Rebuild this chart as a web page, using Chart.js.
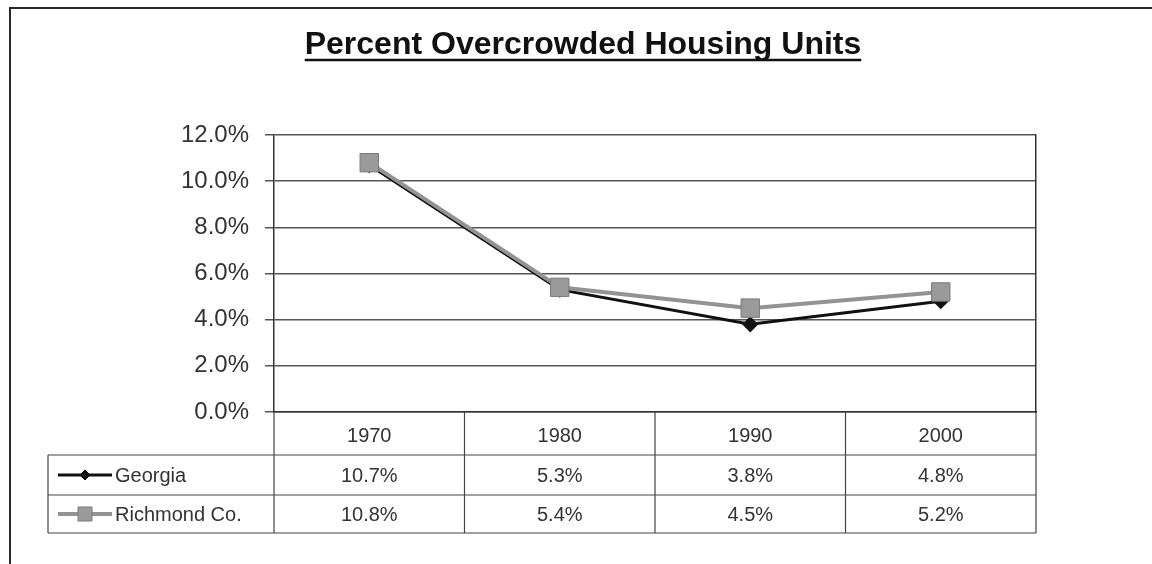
<!DOCTYPE html>
<html>
<head>
<meta charset="utf-8">
<script src="https://cdn.jsdelivr.net/npm/chart.js@4/dist/chart.umd.min.js"></script>
<style>
  html, body { margin: 0; padding: 0; background: #fff; }
  #wrap { width: 1152px; height: 564px; }
</style>
</head>
<body>
<div id="wrap"><canvas id="crowd-chart"></canvas></div>
<script>
var years = ['1970', '1980', '1990', '2000'];
var georgia = [10.7, 5.3, 3.8, 4.8];
var richmond = [10.8, 5.4, 4.5, 5.2];
var seriesNames = ['Georgia', 'Richmond Co.'];

var FONT = '"Liberation Sans", Arial, sans-serif';
var INK = '#333';

function pct(v) { return v.toFixed(1) + '%'; }

// page frame + table under the plot + underline for the title
var extras = {
  id: 'extras',
  beforeDraw: function (chart) {
    var c = chart.ctx;
    c.save();
    c.strokeStyle = '#2a2a2a';
    c.lineWidth = 2;
    c.beginPath();
    c.moveTo(10, 564);
    c.lineTo(10, 8);
    c.lineTo(1152, 8);
    c.stroke();
    c.restore();
  },
  afterDraw: function (chart) {
    var c = chart.ctx;
    var x = chart.scales.x;
    var area = chart.chartArea;
    var rowH = [43, 40, 38];
    var top = area.bottom;
    var r1 = top + rowH[0], r2 = r1 + rowH[1], r3 = r2 + rowH[2];
    var legLeft = 48;
    var n = years.length;
    var edges = [];
    for (var i = 0; i <= n; i++) {
      edges.push(x.left + i * (x.right - x.left) / n);
    }

    c.save();
    c.strokeStyle = '#444';
    c.lineWidth = 1.2;
    c.beginPath();
    // verticals
    edges.forEach(function (ex) { c.moveTo(ex, top); c.lineTo(ex, r3); });
    c.moveTo(legLeft, r1); c.lineTo(legLeft, r3);
    // horizontals
    [r1, r2, r3].forEach(function (ry) { c.moveTo(legLeft, ry); c.lineTo(x.right, ry); });
    c.stroke();

    // values
    var rows = [georgia, richmond];
    var rowMid = [(r1 + r2) / 2, (r2 + r3) / 2];
    c.fillStyle = INK;
    c.font = '20px ' + FONT;
    c.textAlign = 'center';
    c.textBaseline = 'middle';
    rows.forEach(function (vals, r) {
      vals.forEach(function (v, i) {
        c.fillText(pct(v), x.getPixelForValue(i), rowMid[r] + 1);
      });
    });

    // legend keys in the first column
    chart.data.datasets.forEach(function (ds, r) {
      var y = rowMid[r];
      c.strokeStyle = ds.borderColor;
      c.lineWidth = ds.borderWidth;
      c.beginPath();
      c.moveTo(58, y); c.lineTo(112, y);
      c.stroke();
      c.fillStyle = ds.pointBackgroundColor;
      c.strokeStyle = ds.pointBorderColor;
      c.lineWidth = 1;
      c.beginPath();
      if (ds.pointStyle === 'rect') {
        c.rect(85 - 7, y - 7, 14, 14);
      } else {
        c.moveTo(85, y - 5); c.lineTo(90, y); c.lineTo(85, y + 5); c.lineTo(80, y);
        c.closePath();
      }
      c.fill(); c.stroke();
      c.fillStyle = INK;
      c.textAlign = 'left';
      c.fillText(ds.label, 115, y + 1);
    });

    // title underline
    var t = chart.titleBlock;
    c.font = 'bold 32px ' + FONT;
    var w = c.measureText(chart.options.plugins.title.text).width;
    var cx = (t.left + t.right) / 2;
    c.strokeStyle = '#111';
    c.lineWidth = 2.5;
    c.beginPath();
    c.moveTo(cx - w / 2, 60); c.lineTo(cx + w / 2, 60);
    c.stroke();
    c.restore();
  }
};

new Chart(document.getElementById('crowd-chart'), {
  type: 'line',
  data: {
    labels: years,
    datasets: [{
      label: seriesNames[0],
      data: georgia,
      borderColor: '#111',
      borderWidth: 3,
      pointStyle: 'rectRot',
      pointRadius: 6,
      pointBackgroundColor: '#111',
      pointBorderColor: '#111',
      order: 1
    }, {
      label: seriesNames[1],
      data: richmond,
      borderColor: '#939393',
      borderWidth: 4,
      pointStyle: 'rect',
      pointRadius: 13,
      pointBackgroundColor: '#9a9a9a',
      pointBorderColor: '#7a7a7a',
      pointBorderWidth: 1,
      order: 0
    }]
  },
  options: {
    responsive: true,
    maintainAspectRatio: false,
    animation: false,
    layout: { padding: { left: 14, right: 0, top: 0, bottom: 31 } },
    plugins: {
      legend: { display: false },
      tooltip: { enabled: false },
      title: {
        display: true,
        text: 'Percent Overcrowded Housing Units',
        color: '#111',
        font: { family: FONT, size: 32, weight: 'bold' },
        padding: { top: 26, bottom: 70.6 }
      }
    },
    scales: {
      x: {
        offset: true,
        grid: { display: false, drawTicks: false },
        border: { display: true, color: '#333', width: 1.5 },
        ticks: { color: INK, font: { family: FONT, size: 20 }, padding: 12 },
        afterFit: function (s) { s.height = 121; }
      },
      y: {
        min: 0,
        max: 12,
        ticks: {
          stepSize: 2,
          color: INK,
          font: { family: FONT, size: 24 },
          padding: 16,
          callback: function (v) { return pct(v); }
        },
        grid: { color: '#555', lineWidth: 1.5, tickLength: 9 },
        border: { display: true, color: '#333', width: 1.5 },
        afterFit: function (s) { s.width = 260; }
      },
      y2: {
        position: 'right',
        display: true,
        grid: { display: false, drawTicks: false },
        ticks: { display: false },
        border: { display: true, color: '#333', width: 1.5 },
        afterFit: function (s) { s.width = 116; }
      }
    }
  },
  plugins: [extras]
});
</script>
</body>
</html>
